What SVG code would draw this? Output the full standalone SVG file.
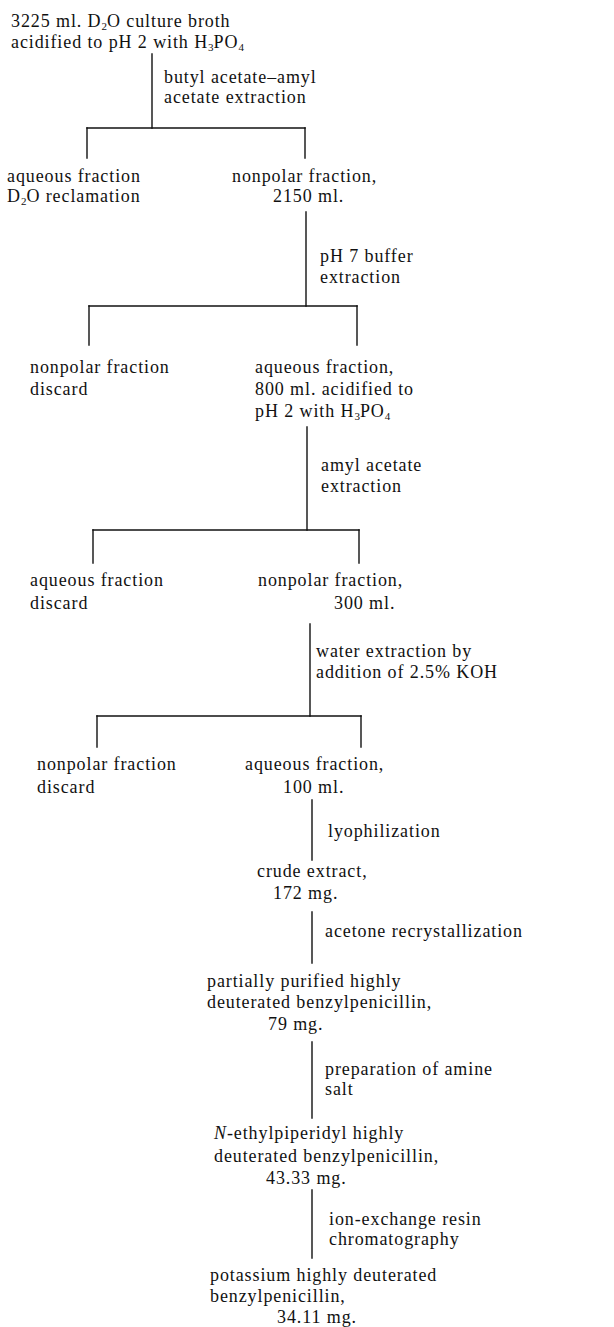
<svg xmlns="http://www.w3.org/2000/svg" width="614" height="1327" viewBox="0 0 614 1327">
<style>
text{font-family:"Liberation Serif","Times New Roman",serif;font-size:18px;letter-spacing:0.9px;fill:#111;}
.sub{font-size:11px;letter-spacing:0;}
.conn line{stroke:#111;stroke-width:1.4;stroke-linecap:square;}
</style>
<rect width="614" height="1327" fill="#fff"/>
<g class="conn" id="connectors">
<line x1="152" y1="54" x2="152" y2="128"/>
<line x1="87" y1="128" x2="305" y2="128"/>
<line x1="87" y1="128" x2="87" y2="158"/>
<line x1="305" y1="128" x2="305" y2="158"/>
<line x1="306" y1="212" x2="306" y2="306"/>
<line x1="89" y1="306" x2="357" y2="306"/>
<line x1="89" y1="306" x2="89" y2="345"/>
<line x1="357" y1="306" x2="357" y2="345"/>
<line x1="307" y1="427" x2="307" y2="530"/>
<line x1="93" y1="530" x2="359" y2="530"/>
<line x1="93" y1="530" x2="93" y2="563"/>
<line x1="359" y1="530" x2="359" y2="563"/>
<line x1="310" y1="624" x2="310" y2="716"/>
<line x1="97" y1="716" x2="361" y2="716"/>
<line x1="97" y1="716" x2="97" y2="747"/>
<line x1="361" y1="716" x2="361" y2="747"/>
<line x1="312" y1="800" x2="312" y2="860"/>
<line x1="312" y1="912" x2="312" y2="963"/>
<line x1="312" y1="1042" x2="312" y2="1118"/>
<line x1="312" y1="1190" x2="312" y2="1258"/>
</g>
<g id="labels">
<text x="164" y="83">butyl acetate–amyl</text>
<text x="164" y="103">acetate extraction</text>
<text x="320" y="262">pH 7 buffer</text>
<text x="320" y="283">extraction</text>
<text x="321" y="471">amyl acetate</text>
<text x="321" y="492">extraction</text>
<text x="316" y="657">water extraction by</text>
<text x="316" y="678">addition of 2.5% KOH</text>
<text x="328" y="837">lyophilization</text>
<text x="325" y="937">acetone recrystallization</text>
<text x="325" y="1075">preparation of amine</text>
<text x="325" y="1095">salt</text>
<text x="329" y="1225">ion-exchange resin</text>
<text x="329" y="1245">chromatography</text>
</g>
<g id="n1">
<text x="11" y="27">3225 ml. D<tspan class="sub" dy="3">2</tspan><tspan dy="-3">O culture broth</tspan></text>
<text x="11" y="48">acidified to pH 2 with H<tspan class="sub" dy="3">3</tspan><tspan dy="-3">PO</tspan><tspan class="sub" dy="3">4</tspan></text>
</g>
<g id="n2">
<text x="7" y="182">aqueous fraction</text>
<text x="7" y="202">D<tspan class="sub" dy="3">2</tspan><tspan dy="-3">O reclamation</tspan></text>
</g>
<g id="n3">
<text x="232" y="182">nonpolar fraction,</text>
<text x="273" y="202">2150 ml.</text>
</g>
<g id="n4">
<text x="30" y="373">nonpolar fraction</text>
<text x="30" y="395">discard</text>
</g>
<g id="n5">
<text x="255" y="373">aqueous fraction,</text>
<text x="255" y="395">800 ml. acidified to</text>
<text x="255" y="417">pH 2 with H<tspan class="sub" dy="3">3</tspan><tspan dy="-3">PO</tspan><tspan class="sub" dy="3">4</tspan></text>
</g>
<g id="n6">
<text x="30" y="586">aqueous fraction</text>
<text x="30" y="609">discard</text>
</g>
<g id="n7">
<text x="258" y="586">nonpolar fraction,</text>
<text x="334" y="609">300 ml.</text>
</g>
<g id="n8">
<text x="37" y="770">nonpolar fraction</text>
<text x="37" y="793">discard</text>
</g>
<g id="n9">
<text x="245" y="770">aqueous fraction,</text>
<text x="283" y="793">100 ml.</text>
</g>
<g id="n10">
<text x="257" y="877">crude extract,</text>
<text x="273" y="899">172 mg.</text>
</g>
<g id="n11">
<text x="207" y="987">partially purified highly</text>
<text x="207" y="1008">deuterated benzylpenicillin,</text>
<text x="268" y="1030">79 mg.</text>
</g>
<g id="n12">
<text x="214" y="1139"><tspan font-style="italic">N</tspan>-ethylpiperidyl highly</text>
<text x="214" y="1162">deuterated benzylpenicillin,</text>
<text x="266" y="1184">43.33 mg.</text>
</g>
<g id="n13">
<text x="210" y="1281">potassium highly deuterated</text>
<text x="210" y="1302">benzylpenicillin,</text>
<text x="277" y="1323">34.11 mg.</text>
</g>
</svg>
